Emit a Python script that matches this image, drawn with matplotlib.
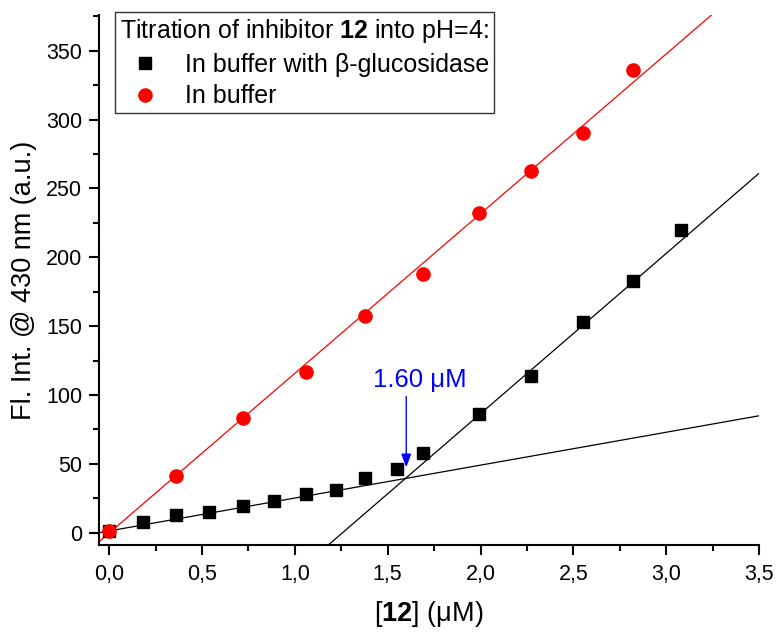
import numpy as np
import matplotlib
matplotlib.use('Agg')
import matplotlib.pyplot as plt
from matplotlib.ticker import MultipleLocator, FuncFormatter

plt.rcParams['font.family'] = ['Liberation Sans', 'DejaVu Sans']
plt.rcParams['mathtext.fontset'] = 'custom'
plt.rcParams['mathtext.rm'] = 'Liberation Sans'
plt.rcParams['mathtext.bf'] = 'Liberation Sans:bold'
plt.rcParams['mathtext.it'] = 'Liberation Sans:italic'

# --- data ---
conc_enz = [0.00, 0.18, 0.36, 0.54, 0.72, 0.89, 1.06, 1.22, 1.38, 1.55, 1.69, 1.99, 2.27, 2.55, 2.82, 3.08]
fl_enz   = [1, 8, 13, 15, 19, 23, 28, 31, 40, 46, 58, 86, 114, 153, 183, 220]

conc_buf = [0.00, 0.36, 0.72, 1.06, 1.38, 1.69, 1.99, 2.27, 2.55, 2.82]
fl_buf   = [1.5, 41, 83, 117, 157, 188, 232, 263, 290, 336]

# linear fits (slope, intercept)
fit_buf  = (116.0, -0.3)
fit_low  = (23.9, 1.2)
fit_high = (116.4, -146.4)

x_cross = 1.60

xticks = [0.0, 0.5, 1.0, 1.5, 2.0, 2.5, 3.0, 3.5]
yticks = [0, 50, 100, 150, 200, 250, 300, 350]

# --- plot ---
fig = plt.figure(figsize=(7.78, 6.34), dpi=100)
ax = fig.add_axes([0.1272, 0.1404, 0.8484, 0.8359])

xl = (-0.055, 3.5)
yl = (-9, 376)
xx = np.array(xl)
ax.plot(xx, fit_buf[0] * xx + fit_buf[1], color='red', lw=0.9)
ax.plot(xx, fit_low[0] * xx + fit_low[1], color='black', lw=0.9)
ax.plot(xx, fit_high[0] * xx + fit_high[1], color='black', lw=0.9)

ax.plot(conc_enz, fl_enz, 's', color='black', ms=8, ls='none',
        label='In buffer with \u03b2-glucosidase', clip_on=False, zorder=3)
ax.plot(conc_buf, fl_buf, 'o', color='red', ms=9.5, ls='none',
        label='In buffer', clip_on=False, zorder=3)

# intersection arrow + label
y_top = 99
y_tip = fit_low[0] * x_cross + fit_low[1] + 8
ax.annotate('', xy=(x_cross, y_tip), xytext=(x_cross, y_top),
            arrowprops=dict(arrowstyle='-|>,head_length=0.4,head_width=0.15',
                            color='blue', lw=1, mutation_scale=20,
                            shrinkA=0, shrinkB=0))
ax.text(1.672, 105.5, '1.60 \u03bcM', color='blue', fontsize=18.5,
        ha='center', va='baseline')

ax.set_xlim(*xl)
ax.set_ylim(*yl)
ax.set_xticks(xticks)
ax.set_yticks(yticks)
ax.xaxis.set_minor_locator(MultipleLocator(0.25))
ax.yaxis.set_minor_locator(MultipleLocator(25))
ax.xaxis.set_major_formatter(FuncFormatter(lambda v, p: f'{v:.1f}'.replace('.', ',')))

for s in ['top', 'right']:
    ax.spines[s].set_visible(False)
for s in ['left', 'bottom']:
    ax.spines[s].set_linewidth(1.5)
ax.tick_params(which='major', direction='out', length=7.2, width=1.5,
               labelsize=15.5, pad=5)
ax.tick_params(which='minor', direction='out', length=4.3, width=1.5)
ax.tick_params(axis='x', which='major', pad=6.5)

ax.set_xlabel('[$\\mathbf{12}$] (\u03bcM)', fontsize=19.5, labelpad=10)
ax.set_ylabel('Fl. Int. @ 430 nm (a.u.)', fontsize=19.5, labelpad=6)

leg = ax.legend(title=r'Titration of inhibitor $\mathbf{12}$ into pH=4:',
                loc='upper left', bbox_to_anchor=(0.024, 1.005),
                fontsize=18, title_fontsize=18, frameon=True, fancybox=False,
                edgecolor='black', borderpad=0.2, borderaxespad=0,
                handlelength=2.0, handletextpad=0.6, labelspacing=0.3,
                numpoints=1, alignment='left')
leg.get_frame().set_linewidth(1.0)

fig.savefig('out.png', dpi=100)
